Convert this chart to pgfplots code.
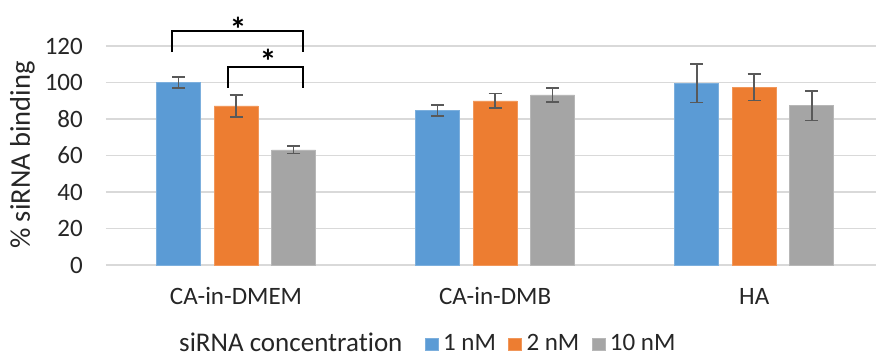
\documentclass[border=0pt]{standalone}
\usepackage{pgfplots}
\pgfplotsset{compat=1.18}
\usepackage{fontspec}
\setmainfont{Carlito}[Ligatures=NoCommon]

\definecolor{cblue}{HTML}{5B9BD5}
\definecolor{corange}{HTML}{ED7D31}
\definecolor{cgray}{HTML}{A5A5A5}
\definecolor{gridc}{HTML}{D9D9D9}
\definecolor{errc}{HTML}{595959}
\definecolor{txt}{HTML}{262626}

% group x value, mean, error
\pgfplotstableread{
x  y     e
0  100.0 3.0
1  84.8  3.0
2  99.5  10.5
}\onenm
\pgfplotstableread{
x  y     e
0  87.2  6.0
1  89.9  4.0
2  97.4  7.2
}\twonm
\pgfplotstableread{
x  y     e
0  63.1  2.1
1  93.2  3.9
2  87.3  8.1
}\tennm

\newcommand{\tickfont}{\fontsize{25}{30}\selectfont}
\newcommand{\titlefont}{\fontsize{27}{32}\selectfont}
\newcommand{\labelfont}{\fontsize{28.5}{34}\selectfont}

\begin{document}
\begin{tikzpicture}[font=\tickfont, color=txt]
\begin{axis}[
  scale only axis,
  width=770pt, height=219pt,
  at={(0,0)}, anchor=south west,
  xmin=-0.502, xmax=2.47,
  ymin=0, ymax=120,
  ytick={0,20,...,120},
  xtick={0,1,2},
  xticklabels={CA-in-DMEM, CA-in-DMB, HA},
  major tick length=0pt,
  axis line style={draw=none},
  ymajorgrids,
  grid style={color=gridc, line width=1.5pt},
  /pgf/number format/assume math mode=true,
  tick label style={font=\tickfont, color=txt},
  yticklabel style={anchor=east, inner sep=0pt, xshift=-23pt},
  xticklabel style={anchor=base, inner sep=0pt, yshift=-40pt},
  every axis y label/.style={at={(axis description cs:-0.1085,0.502)}, rotate=90, anchor=center, font=\labelfont},
  ylabel={\% siRNA binding},
  clip=false,
  ybar, bar width=44pt,
  error bars/y dir=both, error bars/y explicit,
  error bars/error bar style={color=errc, line width=1.6pt},
  error bars/error mark options={rotate=90, mark size=6.5pt, line width=1.6pt, color=errc},
  legend columns=3,
  legend image code/.code={\fill[#1] (0pt,0pt) rectangle (13pt,12.5pt);},
  legend style={at={(319pt,-87pt)}, anchor=south west, draw=none, fill=none,
    inner sep=0pt, outer sep=0pt,
    nodes={inner sep=0pt, anchor=base west, font=\tickfont, text=txt},
    /tikz/every odd column/.append style={column sep=4.5pt},
    /tikz/every even column/.append style={column sep=12.5pt}},
]
\addplot[fill=cblue, draw=cblue!80!white, line width=0.6pt, bar shift=-57.5pt]
  table[x=x, y=y, y error=e] {\onenm};
\addlegendentry{1 nM}
\addplot[fill=corange, draw=corange!80!white, line width=0.6pt, bar shift=0pt]
  table[x=x, y=y, y error=e] {\twonm};
\addlegendentry{2 nM}
\addplot[fill=cgray, draw=cgray!80!white, line width=0.6pt, bar shift=57.5pt]
  table[x=x, y=y, y error=e] {\tennm};
\addlegendentry{10 nM}

% significance brackets
\draw[black, line width=2.2pt] (axis cs:-0.247,116.7) -- (axis cs:-0.247,128.2) -- (axis cs:0.259,128.2) -- (axis cs:0.259,116.7);
\draw[black, line width=2.2pt] (axis cs:-0.031,97) -- (axis cs:-0.031,108.5) -- (axis cs:0.259,108.5) -- (axis cs:0.259,97);
\node[black, font=\fontsize{34}{38}\selectfont\bfseries, inner sep=0pt, anchor=base] at (axis cs:0.008,122.5) {*};
\node[black, font=\fontsize{34}{38}\selectfont\bfseries, inner sep=0pt, anchor=base] at (axis cs:0.124,105) {*};
\end{axis}
\node[anchor=base west, inner sep=0pt, font=\titlefont] at (73pt,-87pt) {siRNA concentration};
\pgfresetboundingbox
\path (-106pt,-93pt) rectangle (770pt,265pt);
\end{tikzpicture}
\end{document}
